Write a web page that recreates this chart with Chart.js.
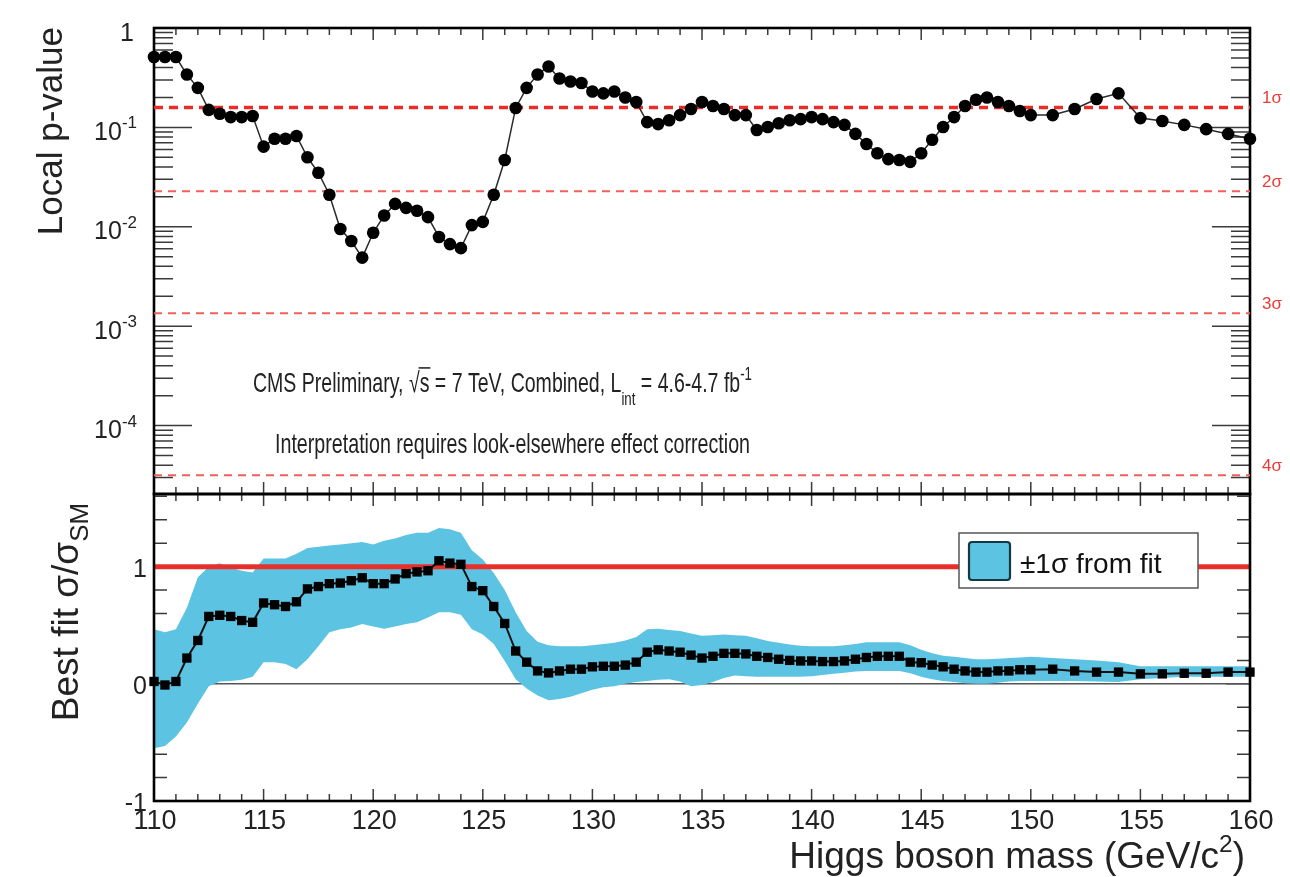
<!DOCTYPE html>
<html>
<head>
<meta charset="utf-8">
<title>Local p-value and best-fit signal strength vs Higgs boson mass</title>
<script src="https://cdn.jsdelivr.net/npm/chart.js@4.4.1/dist/chart.umd.min.js"></script>
<style>
  html, body { margin: 0; padding: 0; background: #ffffff; }
  #wrap { position: relative; width: 1290px; height: 877px; }
  #wrap canvas { position: absolute; left: 0; top: 0; }
</style>
</head>
<body>
<div id="wrap">
  <canvas id="lower" width="1290" height="877"></canvas>
  <canvas id="upper" width="1290" height="877"></canvas>
</div>
<script>
// Higgs boson mass hypotheses (GeV/c^2)
const masses = [110, 110.5, 111, 111.5, 112, 112.5, 113, 113.5, 114, 114.5,
  115, 115.5, 116, 116.5, 117, 117.5, 118, 118.5, 119, 119.5,
  120, 120.5, 121, 121.5, 122, 122.5, 123, 123.5, 124, 124.5,
  125, 125.5, 126, 126.5, 127, 127.5, 128, 128.5, 129, 129.5,
  130, 130.5, 131, 131.5, 132, 132.5, 133, 133.5, 134, 134.5,
  135, 135.5, 136, 136.5, 137, 137.5, 138, 138.5, 139, 139.5,
  140, 140.5, 141, 141.5, 142, 142.5, 143, 143.5, 144, 144.5,
  145, 145.5, 146, 146.5, 147, 147.5, 148, 148.5, 149, 149.5,
  150, 151, 152, 153, 154, 155, 156, 157, 158, 159, 160];

// Observed local p-value at each mass
const localP = [0.51, 0.51, 0.51, 0.34, 0.25, 0.15, 0.137, 0.127, 0.127, 0.13,
  0.064, 0.077, 0.077, 0.082, 0.050, 0.035, 0.021, 0.0095, 0.0072, 0.0049,
  0.0087, 0.013, 0.017, 0.0155, 0.0145, 0.0125, 0.0079, 0.0067, 0.0061, 0.0104,
  0.0112, 0.021, 0.047, 0.157, 0.25, 0.34, 0.41, 0.31, 0.29, 0.28,
  0.23, 0.22, 0.23, 0.20, 0.18, 0.113, 0.108, 0.118, 0.133, 0.153,
  0.18, 0.164, 0.153, 0.133, 0.133, 0.094, 0.101, 0.11, 0.118, 0.121,
  0.127, 0.121, 0.113, 0.106, 0.086, 0.068, 0.055, 0.048, 0.047, 0.045,
  0.055, 0.075, 0.101, 0.127, 0.164, 0.19, 0.20, 0.18, 0.164, 0.146,
  0.133, 0.133, 0.153, 0.193, 0.22, 0.124, 0.116, 0.106, 0.096, 0.086, 0.077];

// Best-fit sigma/sigma_SM
const bestFit = [0.02, -0.01, 0.02, 0.22, 0.37, 0.575, 0.585, 0.575, 0.54, 0.525,
  0.69, 0.675, 0.66, 0.70, 0.81, 0.83, 0.855, 0.86, 0.88, 0.905,
  0.855, 0.855, 0.895, 0.94, 0.955, 0.965, 1.05, 1.03, 1.02, 0.83,
  0.795, 0.66, 0.515, 0.28, 0.185, 0.11, 0.093, 0.11, 0.125, 0.125,
  0.145, 0.15, 0.15, 0.16, 0.185, 0.27, 0.29, 0.28, 0.27, 0.245,
  0.22, 0.235, 0.26, 0.26, 0.255, 0.235, 0.225, 0.21, 0.20, 0.195,
  0.195, 0.19, 0.19, 0.195, 0.21, 0.225, 0.235, 0.235, 0.235, 0.185,
  0.18, 0.16, 0.145, 0.125, 0.11, 0.10, 0.10, 0.11, 0.11, 0.12,
  0.12, 0.125, 0.11, 0.10, 0.10, 0.085, 0.085, 0.09, 0.09, 0.10, 0.10];

// +1 sigma edge of the fit uncertainty band
const bandHigh = [0.465, 0.44, 0.465, 0.65, 0.91, 1.0, 1.03, 0.99, 0.965, 0.95,
  1.07, 1.07, 1.07, 1.11, 1.16, 1.17, 1.18, 1.19, 1.20, 1.21,
  1.19, 1.22, 1.24, 1.27, 1.29, 1.29, 1.33, 1.32, 1.29, 1.14,
  1.06, 0.945, 0.80, 0.61, 0.45, 0.36, 0.33, 0.32, 0.32, 0.32,
  0.33, 0.34, 0.35, 0.37, 0.40, 0.465, 0.47, 0.46, 0.45, 0.43,
  0.41, 0.415, 0.42, 0.415, 0.41, 0.39, 0.365, 0.35, 0.335, 0.325,
  0.32, 0.32, 0.32, 0.33, 0.34, 0.355, 0.355, 0.355, 0.355, 0.33,
  0.29, 0.26, 0.24, 0.23, 0.22, 0.21, 0.21, 0.215, 0.22, 0.225,
  0.23, 0.22, 0.21, 0.20, 0.185, 0.15, 0.15, 0.15, 0.15, 0.15, 0.15];

// -1 sigma edge of the fit uncertainty band
const bandLow = [-0.55, -0.53, -0.45, -0.33, -0.17, -0.02, 0.02, 0.025, 0.035, 0.06,
  0.185, 0.185, 0.17, 0.125, 0.21, 0.32, 0.44, 0.465, 0.48, 0.51,
  0.49, 0.47, 0.49, 0.51, 0.525, 0.565, 0.61, 0.61, 0.59, 0.465,
  0.42, 0.34, 0.195, 0.04, -0.04, -0.10, -0.14, -0.13, -0.11, -0.08,
  -0.05, -0.03, -0.02, 0.0, 0.015, 0.025, 0.035, 0.04, 0.02, -0.02,
  -0.01, 0.015, 0.05, 0.07, 0.065, 0.06, 0.06, 0.06, 0.06, 0.06,
  0.065, 0.075, 0.085, 0.095, 0.105, 0.11, 0.11, 0.11, 0.11, 0.09,
  0.06, 0.04, 0.025, 0.015, 0.005, 0.0, 0.0, 0.01, 0.02, 0.025,
  0.025, 0.025, 0.025, 0.02, 0.015, 0.04, 0.05, 0.06, 0.06, 0.06, 0.06];

// One-sided significance levels
const sigmaLevels = ['1σ', '2σ', '3σ', '4σ'];
const sigmaPValues = [0.1587, 0.02275, 0.00135, 3.17e-5];
const smExpectation = 1;

// Axis tick labels
const massTicks = [110, 115, 120, 125, 130, 135, 140, 145, 150, 155, 160];
const pTicks = [1, 0.1, 0.01, 0.001, 0.0001];
const pTickExponents = ['', '-1', '-2', '-3', '-4'];
const ratioTicks = [-1, 0, 1];

const FONT = '"Liberation Sans", Arial, Helvetica, sans-serif';
const BAND_BLUE = '#5cc4e2';
const pairUp = (xs, ys) => xs.map((x, i) => ({ x, y: ys[i] }));
const xMin = massTicks[0];
const xMax = massTicks[massTicks.length - 1];

// Draws text made of pieces (plain / superscript / subscript / overlined),
// optionally squeezed to a given width and rotated.
function drawRich(ctx, parts, x, y, opt) {
  const size = opt.size;
  const measured = parts.map(p => {
    const s = size * (p.scale || ((p.sup || p.sub) ? 0.68 : 1));
    ctx.font = `${s}px ${FONT}`;
    return { p, s, w: ctx.measureText(p.t).width };
  });
  const natural = measured.reduce((a, m) => a + m.w, 0);
  const sx = opt.width ? opt.width / natural : (opt.sx || 1);
  const total = natural * sx;
  let cx = opt.align === 'right' ? -total : opt.align === 'center' ? -total / 2 : 0;
  ctx.save();
  ctx.translate(x, y);
  if (opt.rotate) ctx.rotate(opt.rotate);
  ctx.fillStyle = opt.color || '#111';
  ctx.strokeStyle = opt.color || '#111';
  ctx.textAlign = 'left';
  ctx.textBaseline = 'alphabetic';
  measured.forEach(m => {
    let dy = 0;
    if (m.p.dy !== undefined) dy = m.p.dy * size;
    else if (m.p.sup) dy = -0.46 * size;
    else if (m.p.sub) dy = 0.3 * size;
    ctx.font = `${m.s}px ${FONT}`;
    ctx.save();
    ctx.translate(cx, dy);
    ctx.scale(sx, 1);
    ctx.fillText(m.p.t, 0, 0);
    ctx.restore();
    if (m.p.over) {
      ctx.lineWidth = Math.max(1, size * 0.055);
      ctx.beginPath();
      ctx.moveTo(cx - 1, -0.86 * size);
      ctx.lineTo(cx + m.w * sx + 1, -0.86 * size);
      ctx.stroke();
    }
    cx += m.w * sx;
  });
  ctx.restore();
}

// Inward mass ticks on the top and bottom edges of a panel
function massTickMarks(ctx, xs, area, majorLen, minorLen) {
  ctx.beginPath();
  for (let m = Math.ceil(xs.min); m <= xs.max; m++) {
    const px = xs.getPixelForValue(m);
    const len = m % 5 === 0 ? majorLen : minorLen;
    ctx.moveTo(px, area.top); ctx.lineTo(px, area.top + len);
    ctx.moveTo(px, area.bottom); ctx.lineTo(px, area.bottom - len);
  }
  ctx.stroke();
}

function frame(ctx, area) {
  ctx.save();
  ctx.strokeStyle = '#000';
  ctx.lineWidth = 2.6;
  ctx.strokeRect(area.left, area.top, area.right - area.left, area.bottom - area.top);
  ctx.restore();
}

// Decorations of the p-value panel
const upperDecor = {
  id: 'upperDecor',
  beforeDatasetsDraw(chart) {
    const { ctx, chartArea: a, scales: { x, y } } = chart;
    ctx.save();
    ctx.strokeStyle = '#3a3a3a';
    ctx.lineWidth = 1.5;
    massTickMarks(ctx, x, a, 12, 7);
    ctx.beginPath();
    for (let d = -5; d <= 0; d++) {
      for (let k = 1; k <= 9; k++) {
        const v = k * Math.pow(10, d);
        if (v < y.min * 0.999 || v > y.max * 1.001) continue;
        const py = y.getPixelForValue(v);
        const len = k === 1 ? 38 : 19;
        ctx.moveTo(a.left, py); ctx.lineTo(a.left + len, py);
        ctx.moveTo(a.right, py); ctx.lineTo(a.right - len, py);
      }
    }
    ctx.stroke();
    ctx.restore();
    frame(ctx, a);
  },
  afterDraw(chart) {
    const { ctx, chartArea: a, scales: { y } } = chart;
    // y tick labels with exponents
    pTicks.forEach((v, i) => {
      const py = y.getPixelForValue(v);
      const parts = pTickExponents[i] ? [{ t: '10' }, { t: pTickExponents[i], sup: true }] : [{ t: '1' }];
      drawRich(ctx, parts, pTickExponents[i] ? 137 : 134, py + 12.5, { size: 25, align: 'right', color: '#222' });
    });
    // y title
    drawRich(ctx, [{ t: 'Local p-value' }], 62, 27, { size: 35, align: 'right', rotate: -Math.PI / 2, color: '#222' });
    // significance labels
    sigmaPValues.forEach((p, i) => {
      drawRich(ctx, [{ t: sigmaLevels[i] }], a.right + 12, y.getPixelForValue(p) - 4, { size: 17, color: '#ea3a34' });
    });
    // annotation
    drawRich(ctx, [
      { t: 'CMS Preliminary, ' }, { t: '√' }, { t: 's', over: true },
      { t: ' = 7 TeV, Combined, L' }, { t: 'int', sub: true, dy: 0.48 },
      { t: ' = 4.6-4.7 fb' }, { t: '-1', sup: true, dy: -0.42 }
    ], 253, 392, { size: 28, width: 499, color: '#222' });
    drawRich(ctx, [{ t: 'Interpretation requires look-elsewhere effect correction' }],
      275, 453, { size: 28, width: 475, color: '#222' });
  }
};

// Decorations of the signal-strength panel
const lowerDecor = {
  id: 'lowerDecor',
  beforeDatasetsDraw(chart) {
    const { ctx, chartArea: a, scales: { x, y } } = chart;
    ctx.save();
    ctx.strokeStyle = '#3a3a3a';
    ctx.lineWidth = 1.5;
    massTickMarks(ctx, x, a, 12, 7);
    ctx.beginPath();
    for (let i = -5; i <= 8; i++) {
      const v = i * 0.2;
      if (v < y.min - 1e-6 || v > y.max + 1e-6) continue;
      const py = y.getPixelForValue(v);
      const len = i % 5 === 0 ? 24 : 13;
      ctx.moveTo(a.left, py); ctx.lineTo(a.left + len, py);
      ctx.moveTo(a.right, py); ctx.lineTo(a.right - len, py);
    }
    ctx.stroke();
    ctx.restore();
  },
  afterDatasetsDraw(chart) {
    const { ctx } = chart;
    const band = chart.data.datasets.find(d => d.id === 'band');
    // legend box
    ctx.save();
    ctx.fillStyle = '#ffffff';
    ctx.fillRect(959, 533, 239, 55);
    ctx.strokeStyle = '#555';
    ctx.lineWidth = 1.5;
    ctx.strokeRect(959, 533, 239, 55);
    ctx.fillStyle = band.backgroundColor;
    ctx.strokeStyle = '#153845';
    ctx.lineWidth = 2.2;
    ctx.beginPath();
    ctx.roundRect(969, 542, 41, 38, 3);
    ctx.fill();
    ctx.stroke();
    ctx.restore();
    drawRich(ctx, [{ t: band.label }], 1020, 573, { size: 28, color: '#111' });
  },
  afterDraw(chart) {
    const { ctx, chartArea: a, scales: { x, y } } = chart;
    frame(ctx, a);
    // mass labels
    massTicks.forEach(m => {
      drawRich(ctx, [{ t: String(m) }], x.getPixelForValue(m) + 1, 829, { size: 27, align: 'center', color: '#222' });
    });
    // ratio labels
    ratioTicks.forEach(v => {
      drawRich(ctx, [{ t: String(v) }], 147, y.getPixelForValue(v) + 10, { size: 25, align: 'right', color: '#222' });
    });
    // axis titles
    drawRich(ctx, [{ t: 'Best fit σ/σ' }, { t: 'SM', sub: true, dy: 0.28, scale: 0.7 }], 78, 503,
      { size: 37, align: 'right', rotate: -Math.PI / 2, color: '#222' });
    drawRich(ctx, [{ t: 'Higgs boson mass (GeV/c' }, { t: '2', sup: true, dy: -0.42, scale: 0.66 }, { t: ')' }],
      1245, 868, { size: 37, align: 'right', color: '#222' });
  }
};

const commonOptions = (padding) => ({
  responsive: false,
  animation: false,
  events: [],
  layout: { padding },
  plugins: { legend: { display: false }, tooltip: { enabled: false } }
});

new Chart(document.getElementById('lower'), {
  type: 'line',
  data: {
    datasets: [
      { label: 'zero', data: [{ x: xMin, y: 0 }, { x: xMax, y: 0 }], borderColor: '#555', borderWidth: 1.5,
        pointRadius: 0, order: 6 },
      { id: 'band', label: '±1σ from fit', data: pairUp(masses, bandHigh), borderColor: 'rgba(0,0,0,0)',
        backgroundColor: BAND_BLUE, borderWidth: 0, pointRadius: 0, fill: '+1', tension: 0, order: 5 },
      { label: 'band low', data: pairUp(masses, bandLow), borderColor: 'rgba(0,0,0,0)', borderWidth: 0,
        pointRadius: 0, fill: false, order: 5 },
      { label: 'SM', data: [{ x: xMin, y: smExpectation }, { x: xMax, y: smExpectation }], borderColor: '#e8302a',
        borderWidth: 5, pointRadius: 0, order: 3 },
      { label: 'Best fit', data: pairUp(masses, bestFit), borderColor: '#111', borderWidth: 2, tension: 0,
        pointStyle: 'rect', pointRadius: 6.6, pointBackgroundColor: '#000', pointBorderWidth: 0, clip: false, order: 1 }
    ]
  },
  options: Object.assign(commonOptions({ left: 154, right: 40, top: 494, bottom: 76 }), {
    scales: {
      x: { type: 'linear', min: xMin, max: xMax, display: false },
      y: { type: 'linear', min: -1, max: 1.62, display: false }
    }
  }),
  plugins: [lowerDecor]
});

new Chart(document.getElementById('upper'), {
  type: 'line',
  data: {
    datasets: [
      { label: 'Local p-value', data: pairUp(masses, localP), borderColor: '#2a2a2a', borderWidth: 1.5, tension: 0,
        pointRadius: 6.3, pointBackgroundColor: '#000', pointBorderWidth: 0, clip: false, order: 1 },
      ...sigmaPValues.map((p, i) => ({
        label: sigmaLevels[i], data: [{ x: xMin, y: p }, { x: xMax, y: p }],
        borderColor: i === 0 ? '#ea2c27' : '#f0605a', borderWidth: i === 0 ? 3.6 : 2,
        borderDash: i === 0 ? [9, 6] : [8, 6], pointRadius: 0, order: 2
      }))
    ]
  },
  options: Object.assign(commonOptions({ left: 154, right: 40, top: 28, bottom: 383 }), {
    scales: {
      x: { type: 'linear', min: xMin, max: xMax, display: false },
      y: { type: 'logarithmic', min: 2.05e-5, max: 1, display: false }
    }
  }),
  plugins: [upperDecor]
});
</script>
</body>
</html>
